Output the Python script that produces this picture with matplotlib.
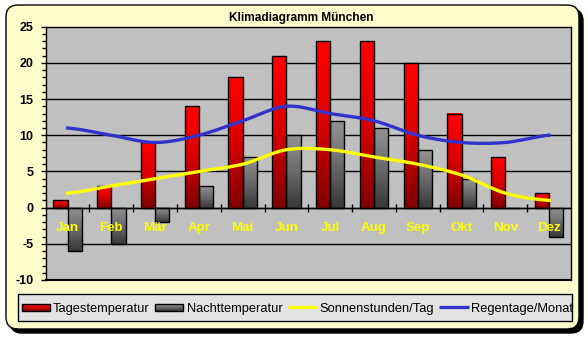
import numpy as np
import matplotlib
matplotlib.use('Agg')
import matplotlib.pyplot as plt
from matplotlib.colors import LinearSegmentedColormap
from matplotlib.patches import FancyBboxPatch, Rectangle

matplotlib.rcParams['font.family'] = 'Liberation Sans'

months = ['Jan', 'Feb', 'Mär', 'Apr', 'Mai', 'Jun', 'Jul', 'Aug', 'Sep', 'Okt', 'Nov', 'Dez']
tag = [1, 3, 9, 14, 18, 21, 23, 23, 20, 13, 7, 2]
nacht = [-6, -5, -2, 3, 7, 10, 12, 11, 8, 4, 0, -4]
sonne = [2, 3, 4, 5, 6, 8, 8, 7, 6, 4.5, 2, 1]
regen = [11, 10, 9, 10, 12, 14, 13, 12, 10, 9, 9, 10]
names = ['Tagestemperatur', 'Nachttemperatur', 'Sonnenstunden/Tag', 'Regentage/Monat']

red_cm = LinearSegmentedColormap.from_list('r', ['#FF0000', '#D80000', '#800000'])
gray_cm = LinearSegmentedColormap.from_list('g', ['#929292', '#6a6a6a', '#383838'])
grad = np.linspace(0, 1, 64).reshape(-1, 1)


def smooth(vals, n=24):
    # catmull-rom, like excel's smoothed line
    p = np.array(vals, float)
    p = np.concatenate([[p[0]], p, [p[-1]]])
    xs, ys = [], []
    for i in range(len(vals) - 1):
        p0, p1, p2, p3 = p[i:i + 4]
        t = np.linspace(0, 1, n)
        y = 0.5 * ((2 * p1) + (-p0 + p2) * t + (2 * p0 - 5 * p1 + 4 * p2 - p3) * t ** 2
                   + (-p0 + 3 * p1 - 3 * p2 + p3) * t ** 3)
        xs.append(i + t)
        ys.append(y)
    return np.concatenate(xs), np.concatenate(ys)


fig = plt.figure(figsize=(5.88, 3.37), dpi=100)

# background: rounded yellow box with shadow, legend box
bg = fig.add_axes([0, 0, 1, 1])
bg.axis('off')
bg.add_patch(FancyBboxPatch((10, 9), 573, 324, boxstyle='round,pad=0,rounding_size=12',
                            fc='black', ec='black', lw=1))
bg.add_patch(FancyBboxPatch((6, 5), 573, 324, boxstyle='round,pad=0,rounding_size=12',
                            fc='#FFFFCC', ec='black', lw=1))
bg.text(300.8, 20.7, 'Klimadiagramm München', ha='center', va='baseline',
        fontsize=8.6, fontweight='bold')
bg.add_patch(Rectangle((18.3, 294.3), 553.4, 26.7, fc='#E3E3E3', ec='black', lw=1))

bg.imshow(grad, extent=[22, 50, 311, 304], origin='upper', cmap=red_cm, aspect='auto', zorder=3)
bg.add_patch(Rectangle((22, 304), 28, 7, fc='none', ec='black', lw=1, zorder=4))
bg.imshow(grad, extent=[155, 183, 311, 304], origin='upper', cmap=gray_cm, aspect='auto', zorder=3)
bg.add_patch(Rectangle((155, 304), 28, 7, fc='none', ec='black', lw=1, zorder=4))
bg.plot([288, 317], [306.8, 306.8], color='#FFFF00', lw=2.4, solid_capstyle='butt', zorder=4)
bg.plot([439, 469], [306.8, 306.8], color='#3333CC', lw=2.4, solid_capstyle='butt', zorder=4)
for xt, name in zip([53, 186.5, 319, 471], names):
    bg.text(xt, 311.7, name, ha='left', va='baseline', fontsize=9.3)
bg.set_xlim(0, 588)
bg.set_ylim(337, 0)

# plot area
ax = fig.add_axes([45.7 / 588, (337 - 280) / 337, (571 - 45.7) / 588, (280 - 26.7) / 337])
ax.set_facecolor('#C0C0C0')
x = np.arange(len(months))
w = 0.325

bars1 = ax.bar(x - w / 2, tag, w, fc='none', ec='black', lw=1, zorder=2)
bars2 = ax.bar(x + w / 2, nacht, w, fc='none', ec='black', lw=1, zorder=2)
for bars, cm in [(bars1, red_cm), (bars2, gray_cm)]:
    for b in bars:
        if b.get_height() == 0:
            continue
        x0 = b.get_x()
        y0, y1 = sorted([b.get_y(), b.get_y() + b.get_height()])
        ax.imshow(grad, extent=[x0, x0 + b.get_width(), y0, y1], origin='upper',
                  cmap=cm, aspect='auto', zorder=1.9)

sx, sy = smooth(sonne)
ax.plot(sx, sy, color='#FFFF00', lw=2.4, zorder=2.3)
rx, ry = smooth(regen)
ax.plot(rx, ry, color='#3333CC', lw=2.4, zorder=2.3)

ax.set_xlim(-0.5, 11.5)
ax.set_ylim(-10, 25)
ax.set_yticks(range(-10, 26, 5))
ax.set_yticks(range(-10, 26), minor=True)
ax.set_yticklabels([str(v) for v in range(-10, 26, 5)], fontsize=9, fontweight='bold')
ax.tick_params(axis='y', which='major', direction='out', length=3.5, width=1, pad=5.5)
ax.tick_params(axis='y', which='minor', direction='out', length=2.8, width=1)
for v in range(-5, 25, 5):
    ax.axhline(v, color='black', lw=1, zorder=1)
ax.axhline(-10, color='black', lw=1.5, zorder=5, clip_on=False)

ax.set_axisbelow(False)
ax.spines['bottom'].set_position(('data', 0))
ax.set_xticks(x)
ax.set_xticklabels(months, color='#FFFF00', fontsize=9.6, fontweight='bold')
ax.set_xticks(np.arange(0.5, 11, 1), minor=True)
ax.tick_params(axis='x', which='major', length=0, pad=10)
ax.tick_params(axis='x', which='minor', direction='inout', length=6, width=1)
for s in ax.spines.values():
    s.set_linewidth(1)

fig.savefig('out.png', dpi=100)
